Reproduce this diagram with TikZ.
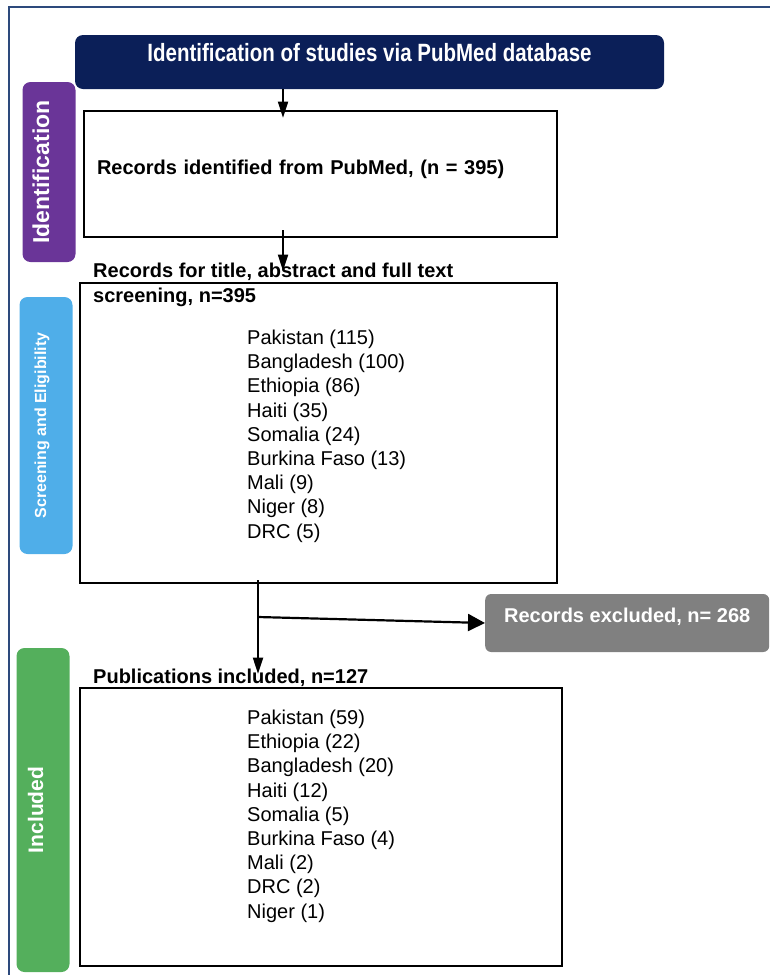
\documentclass[tikz,border=0pt]{standalone}
\usepackage{fontspec}
\setmainfont{Liberation Sans}
\newfontfamily\narrowfont{Liberation Sans}[FakeStretch=0.82]
\usetikzlibrary{arrows.meta,calc}

\definecolor{navy}{HTML}{0B1F58}
\definecolor{idpurple}{HTML}{6A3598}
\definecolor{scrblue}{HTML}{4FAEE9}
\definecolor{incgreen}{HTML}{54AF5C}
\definecolor{exgrey}{HTML}{808080}
\definecolor{framecol}{HTML}{2D4A7C}

\begin{document}
\begin{tikzpicture}[x=1pt, y=-1pt,
  stagebox/.style={rounded corners=8pt, rotate=90, text=white, minimum height=53pt,
    inner sep=0pt, text height=15pt, text depth=15pt},
  flowbox/.style={draw=black, line width=2.6pt},
  headtext/.style={font=\fontsize{20}{25}\selectfont\bfseries, align=left, anchor=base west, inner sep=0pt},
  countries/.style={font=\fontsize{20}{24.2}\selectfont, align=left, anchor=base west, inner sep=0pt},
  flow/.style={-{Triangle[length=16pt, width=10pt]}, line width=1.8pt},
  bigflow/.style={-{Triangle[length=17pt, width=17pt]}, line width=2.2pt}]
\useasboundingbox (0,0) rectangle (769,975);
\draw[framecol, line width=2pt] (9,985) -- (9,7) -- (780,7);
\node[fill=navy, rounded corners=8pt, minimum width=589pt, minimum height=54pt, text=white,
  font=\narrowfont\fontsize{25}{30}\selectfont\bfseries, text height=18pt, text depth=20pt] (title) at (369.5,62) {Identification of studies via PubMed database};
\node[stagebox, fill=idpurple, minimum width=180pt, font=\fontsize{23}{28}\selectfont\bfseries] (idlab) at (49,172) {Identification};
\node[stagebox, fill=scrblue, minimum width=257pt, font=\fontsize{16}{20}\selectfont\bfseries] (scrlab) at (46,425.5) {Screening and Eligibility};
\node[stagebox, fill=incgreen, minimum width=324pt, font=\fontsize{21}{26}\selectfont\bfseries] (inclab) at (43,810) {Included};
\node[flowbox, minimum width=473pt, minimum height=126pt, text width=447pt, inner xsep=13pt, align=left,
  font=\fontsize{20}{25}\selectfont\bfseries, text height=14pt, text depth=14pt] (ident) at (320.5,174) {Records identified from PubMed, (n = 395)};
\node[flowbox, minimum width=477pt, minimum height=300pt] (screen) at (318.5,433) {};
\node[headtext] (scrhead) at (93,302) {Records for title, abstract and full text\\screening, n=395};
\node[countries] (scrlist) at (247,538) {Pakistan (115)\\Bangladesh (100)\\Ethiopia (86)\\Haiti (35)\\Somalia (24)\\Burkina Faso (13)\\Mali (9)\\Niger (8)\\DRC (5)};
\node[fill=exgrey, rounded corners=6pt, minimum width=284pt, minimum height=58pt, text=white,
  font=\fontsize{20}{25}\selectfont\bfseries, text height=14pt, text depth=16pt, anchor=west] (excl) at (485,623) {Records excluded, n= 268};
\node[flowbox, minimum width=482pt, minimum height=278pt] (incl) at (321,827) {};
\node[headtext] (inclhead) at (93,683) {Publications included, n=127};
\node[countries] (incllist) at (247,918) {Pakistan (59)\\Ethiopia (22)\\Bangladesh (20)\\Haiti (12)\\Somalia (5)\\Burkina Faso (4)\\Mali (2)\\DRC (2)\\Niger (1)};
\coordinate (armA) at (283,0);
\coordinate (armB) at (258,0);
\coordinate (split) at (258,617);
\draw[flow, shorten >=-8pt] (title.south -| armA) -- (ident.north -| armA);
\draw[flow] ($(ident.south -| armA)+(0,-8)$) -- ($(screen.north -| armA)+(0,-11)$);
\draw[flow] ($(screen.south -| armB)+(0,-4)$) -- ($(incl.north -| armB)+(0,-13)$);
\draw[bigflow] (split) -- (excl.west);
\end{tikzpicture}
\end{document}
